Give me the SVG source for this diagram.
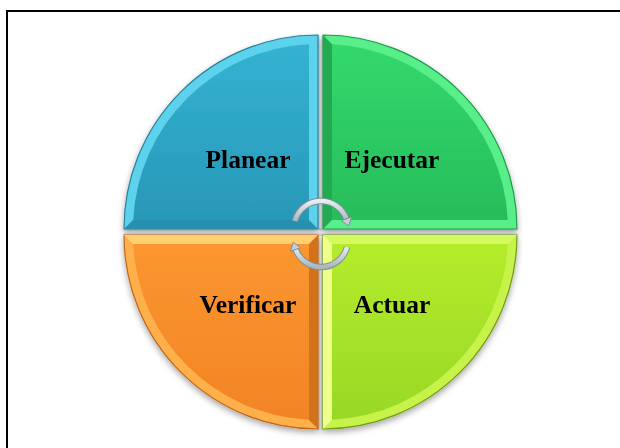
<svg xmlns="http://www.w3.org/2000/svg" width="620" height="448" viewBox="0 0 620 448">
  <defs>
    <filter id="shadow" x="-10%" y="-10%" width="120%" height="125%">
      <feDropShadow dx="0" dy="3" stdDeviation="3" flood-color="#000" flood-opacity="0.35"/>
    </filter>
    <linearGradient id="gBlue" x1="0" y1="0" x2="0" y2="1">
      <stop offset="0" stop-color="#34b2d2"/>
      <stop offset="1" stop-color="#2898b8"/>
    </linearGradient>
    <linearGradient id="gGreen" x1="0" y1="0" x2="0" y2="1">
      <stop offset="0" stop-color="#34d86c"/>
      <stop offset="1" stop-color="#27bd5b"/>
    </linearGradient>
    <linearGradient id="gOrange" x1="0" y1="0" x2="0" y2="1">
      <stop offset="0" stop-color="#fb9630"/>
      <stop offset="1" stop-color="#f28424"/>
    </linearGradient>
    <linearGradient id="gLime" x1="0" y1="0" x2="0" y2="1">
      <stop offset="0" stop-color="#b4ec2c"/>
      <stop offset="1" stop-color="#98d826"/>
    </linearGradient>
    <linearGradient id="gArrow" x1="0" y1="0" x2="0" y2="1">
      <stop offset="0" stop-color="#e6edf0"/>
      <stop offset="1" stop-color="#a9b8bf"/>
    </linearGradient>
    <linearGradient id="gGapV" x1="0" y1="0" x2="1" y2="0">
      <stop offset="0" stop-color="#c9cdcf"/>
      <stop offset="0.5" stop-color="#ffffff"/>
      <stop offset="1" stop-color="#c9cdcf"/>
    </linearGradient>
    <linearGradient id="gGapH" x1="0" y1="0" x2="0" y2="1">
      <stop offset="0" stop-color="#c9cdcf"/>
      <stop offset="0.5" stop-color="#ffffff"/>
      <stop offset="1" stop-color="#c9cdcf"/>
    </linearGradient>
  </defs>
  <style>
    .lbl { font-family: "Liberation Serif", "Times New Roman", serif; font-weight: bold; font-size: 25.5px; fill: #000; text-anchor: middle; }
    .arcOut { fill: none; stroke: #7f9099; stroke-width: 6.5; stroke-linecap: butt; }
    .arcIn { fill: none; stroke: url(#gArrow); stroke-width: 4.5; stroke-linecap: butt; }
    .head { fill: #c4d0d5; stroke: #7f9099; stroke-width: 1; stroke-linejoin: round; }
  </style>

  <rect x="7" y="11" width="660" height="470" fill="#ffffff" stroke="#000" stroke-width="2"/>

  <!-- gaps -->
  <rect x="317" y="36" width="7" height="394" fill="url(#gGapV)"/>
  <rect x="124" y="228" width="393" height="8" fill="url(#gGapH)"/>

  <g filter="url(#shadow)">
    <g id="planear">
      <path d="M318,229 L318,35 A194,194 0 0 0 124,229 Z" fill="#5cd2ec" stroke="#2a7f99" stroke-width="1.2"/>
      <path d="M124,229 L318,229 L309,220 L133,220 Z" fill="#2690ae"/>
      <path d="M309,220 L309,44.2 A185,185 0 0 0 133.2,220 Z" fill="url(#gBlue)"/>
      <text class="lbl" x="248" y="168">Planear</text>
    </g>
    <g id="ejecutar">
      <path d="M323,229 L323,35 A194,194 0 0 1 517,229 Z" fill="#58ee8a" stroke="#1f9a4a" stroke-width="1.2"/>
      <path d="M323,35 L323,229 L332,220 L332,44.2 Z" fill="#22aa52"/>
      <path d="M332,220 L332,44.2 A185,185 0 0 1 507.8,220 Z" fill="url(#gGreen)"/>
      <text class="lbl" x="392" y="168">Ejecutar</text>
    </g>
    <g id="verificar">
      <path d="M318,235 L124,235 A194,194 0 0 0 318,429 Z" fill="#ffb04c" stroke="#c0651a" stroke-width="1.2"/>
      <path d="M124,235 L318,235 L309,244 L133,244 Z" fill="#ffd070"/>
      <path d="M318,235 L318,429 L309,420 L309,244 Z" fill="#d2731c"/>
      <path d="M309,244 L133.2,244 A185,185 0 0 0 309,419.8 Z" fill="url(#gOrange)"/>
      <text class="lbl" x="248" y="313">Verificar</text>
    </g>
    <g id="actuar">
      <path d="M323,235 L517,235 A194,194 0 0 1 323,429 Z" fill="#c6f24a" stroke="#6f9c14" stroke-width="1.2"/>
      <path d="M323,235 L517,235 L508,244 L332,244 Z" fill="#d4fa60"/>
      <path d="M323,235 L323,429 L332,420 L332,244 Z" fill="#eeff8a"/>
      <path d="M332,244 L507.8,244 A185,185 0 0 1 332,419.8 Z" fill="url(#gLime)"/>
      <text class="lbl" x="392" y="313">Actuar</text>
    </g>
  </g>

  <g id="connectors">
    <path class="arcOut" d="M294.9,221 A27,27 0 0 1 346.4,218.8"/>
    <path class="arcIn" d="M294.9,221 A27,27 0 0 1 346.4,218.8"/>
    <polygon class="head" points="348.8,226 351.6,216.9 341.2,220.7"/>
    <path class="arcOut" d="M347.1,247 A27,27 0 0 1 295.6,249.2"/>
    <path class="arcIn" d="M347.1,247 A27,27 0 0 1 295.6,249.2"/>
    <polygon class="head" points="293.2,242.2 300.6,247.8 290.5,251.2"/>
  </g>
</svg>
